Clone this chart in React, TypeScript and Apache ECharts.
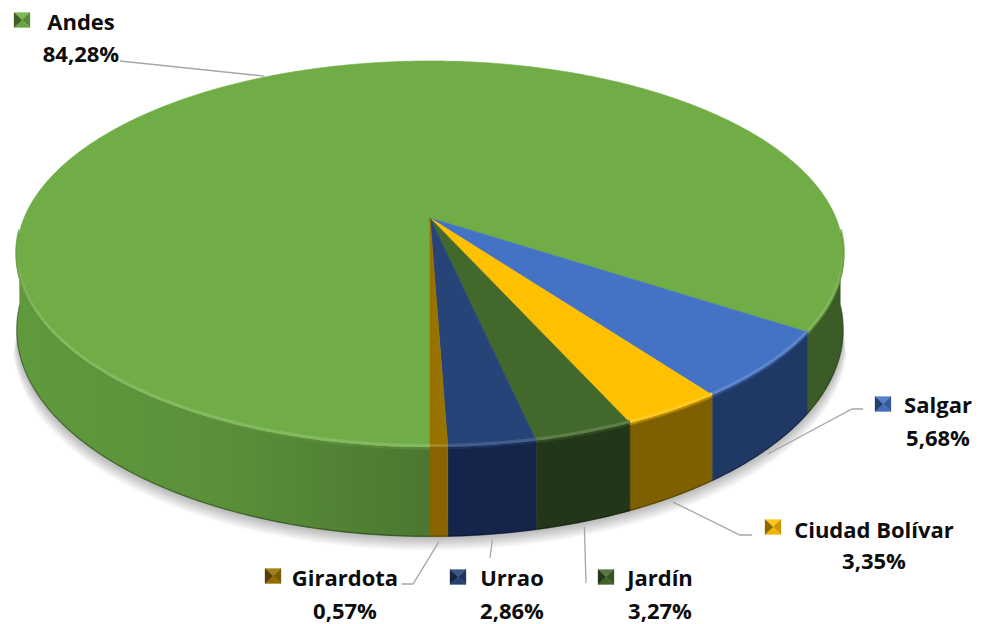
import React, { useEffect, useRef } from "react";
import * as echarts from "echarts";

// ---- data ----
const CATEGORIES = ["Andes", "Salgar", "Ciudad Bolívar", "Jardín", "Urrao", "Girardota"];
const VALUES = [84.28, 5.68, 3.35, 3.27, 2.86, 0.57];

// ---- styles ----
const TOP_COLORS = ["#70AD47", "#4472C4", "#FFC000", "#43682B", "#264478", "#997300"];
const SIDE_COLORS = ["", "#1F3864", "#7F6000", "#22361A", "#14244A", "#8A6400"];

// ---- layout (label boxes and leader elbows) ----
const LABEL_LAYOUT = [
  { tx: 81, ny: 21, py: 53, mx: 22, my: 20, line: [[120, 61]] },
  { tx: 938, ny: 404, py: 437, mx: 883, my: 404, line: [[852, 409], [863, 409]] },
  { tx: 874, ny: 529, py: 560, mx: 773, my: 527, line: [[740, 535], [752, 535]] },
  { tx: 660, ny: 577, py: 610, mx: 606, my: 577, line: [[586, 583]] },
  { tx: 512, ny: 577, py: 610, mx: 458, my: 577, line: [[490, 558]] },
  { tx: 345, ny: 577, py: 610, mx: 273, my: 576, line: [[413, 584], [402, 584]] },
];

// ---- pie geometry ----
const CX = 430;
const CY_E = 254;
const RA = 406;
const RB = 193;
const CC = -36;
const PERSP = 0.1865;
const DEPTH = 73;
const START_ANGLE = 90;
const FONT = "'Open Sans', 'Noto Sans', sans-serif";

function proj(deg: number, bottom = false): number[] {
  const t = (deg * Math.PI) / 180;
  const s = Math.sin(t);
  const c = Math.cos(t);
  const w = 1 - PERSP * s;
  const x = CX + (RA * c) / w;
  let y = CY_E + (RB * s + CC) / w;
  if (bottom) y += DEPTH / w;
  return [x, y];
}

function arc(a0: number, a1: number, bottom = false): number[][] {
  const pts: number[][] = [];
  const n = Math.max(2, Math.ceil((a1 - a0) / 0.75));
  for (let k = 0; k <= n; k++) pts.push(proj(a0 + ((a1 - a0) * k) / n, bottom));
  return pts;
}

function hexToRgb(h: string) {
  const v = parseInt(h.slice(1), 16);
  return [(v >> 16) & 255, (v >> 8) & 255, v & 255];
}
function shade(h: string, f: number) {
  const [r, g, b] = hexToRgb(h);
  const cl = (x: number) => Math.max(0, Math.min(255, Math.round(x)));
  return `rgb(${cl(r * f)},${cl(g * f)},${cl(b * f)})`;
}
function lighten(h: string, f: number) {
  const [r, g, b] = hexToRgb(h);
  const m = (x: number) => Math.round(x + (255 - x) * f);
  return `rgb(${m(r)},${m(g)},${m(b)})`;
}

export default function App() {
  const ref = useRef<HTMLDivElement>(null);

  useEffect(() => {
    document.body.style.margin = "0";
    if (!ref.current) return;
    const chart = echarts.init(ref.current, undefined, { renderer: "svg" });
    const total = VALUES.reduce((a, b) => a + b, 0);

    const renderItem = (params: any, api: any) => {
      const i = params.dataIndex;
      const v = api.value(0);
      let cum = 0;
      for (let k = 0; k < i; k++) cum += VALUES[k];
      const a0 = START_ANGLE + (cum / total) * 360;
      const a1 = a0 + (v / total) * 360;
      const top = TOP_COLORS[i];
      const children: any[] = [];

      // soft drop shadow under the front of the pie (drawn once)
      if (i === 0) {
        const base = arc(14, 166, true);
        for (let k = 14; k >= 1; k -= 1) {
          const down = base.map((p) => [p[0] + (p[0] - CX) * 0.0007 * k, p[1] + k]);
          const up = base.map((p) => [p[0], p[1] - 20]).reverse();
          children.push({
            type: "polygon",
            shape: { points: down.concat(up) },
            style: { fill: "rgba(0,0,0,0.02)" },
            z2: 0,
          });
        }
      }

      // side walls (visible front part)
      const sideFill =
        i === 0
          ? new echarts.graphic.LinearGradient(
              16, 0, 843, 0,
              [
                { offset: 0, color: "#5F9A3C" },
                { offset: 0.25, color: "#5A903A" },
                { offset: 0.5, color: "#4B7731" },
                { offset: 1, color: "#3A5A26" },
              ],
              true
            )
          : SIDE_COLORS[i];
      for (let k = -1; k <= 1; k++) {
        const lo = Math.max(a0, 4 + 360 * k);
        const hi = Math.min(a1, 176 + 360 * k);
        if (lo < hi) {
          const t = arc(lo, hi);
          const b = arc(lo, hi, true);
          children.push({
            type: "polygon",
            shape: { points: t.concat(b.slice().reverse()) },
            style: {
              fill: sideFill,
              stroke: i === 0 ? "#4B7731" : SIDE_COLORS[i],
              lineWidth: 0.4,
            },
            z2: 1,
          });
          // dark bottom edge
          children.push({
            type: "polyline",
            shape: { points: b.map((p) => [p[0], p[1] - 0.5]) },
            style: { stroke: "rgba(0,0,0,0.3)", lineWidth: 1.2, fill: "none" },
            z2: 1.5,
          });
          // bevel highlight on the top rim
          children.push({
            type: "polyline",
            shape: { points: t.map((p) => [p[0], p[1] - 1.5]) },
            style: { stroke: lighten(top, 0.14), lineWidth: 3, fill: "none" },
            z2: 3,
          });
          children.push({
            type: "polyline",
            shape: { points: t.map((p) => [p[0], p[1] + 1.5]) },
            style: { stroke: shade(top, 0.85), lineWidth: 2, fill: "none", opacity: 0.6 },
            z2: 3,
          });
        }
      }

      // top face
      children.push({
        type: "polygon",
        shape: { points: [[CX, CY_E + CC]].concat(arc(a0, a1)) },
        style: { fill: top, stroke: top, lineWidth: 0.6 },
        z2: 2,
      });

      // leader line
      const mid = (a0 + a1) / 2;
      const front = Math.sin((mid * Math.PI) / 180) > 0;
      const anc = proj(mid, front);
      const anchor = front ? [anc[0], anc[1] + 5] : [anc[0], anc[1] - 1];
      const L = LABEL_LAYOUT[i];
      children.push({
        type: "polyline",
        shape: { points: [anchor].concat(L.line) },
        style: { stroke: "#A6A6A6", lineWidth: 1.3, fill: "none" },
        z2: 4,
      });

      // legend key marker (bevelled square)
      const hw = 8;
      const hh = 7.5;
      const c = [L.mx, L.my];
      const tl = [L.mx - hw, L.my - hh];
      const tr = [L.mx + hw, L.my - hh];
      const bl = [L.mx - hw, L.my + hh];
      const br = [L.mx + hw, L.my + hh];
      const tris = [
        { pts: [tl, tr, c], col: lighten(top, 0.1) },
        { pts: [tr, br, c], col: shade(top, 0.8) },
        { pts: [br, bl, c], col: shade(top, 0.95) },
        { pts: [bl, tl, c], col: shade(top, 0.55) },
      ];
      tris.forEach((t) =>
        children.push({
          type: "polygon",
          shape: { points: t.pts },
          style: { fill: t.col, stroke: t.col, lineWidth: 0.3 },
          z2: 5,
        })
      );

      // texts
      children.push({
        type: "text",
        style: {
          x: L.tx,
          y: L.ny,
          text: CATEGORIES[i],
          fill: "#0D0D0D",
          font: `bold 22px ${FONT}`,
          align: "center",
          verticalAlign: "middle",
        },
        z2: 5,
      });
      children.push({
        type: "text",
        style: {
          x: L.tx,
          y: L.py,
          text: v.toFixed(2).replace(".", ",") + "%",
          fill: "#0D0D0D",
          font: `bold 22px ${FONT}`,
          align: "center",
          verticalAlign: "middle",
        },
        z2: 5,
      });

      return { type: "group", children };
    };

    chart.setOption({
      animation: false,
      backgroundColor: "#FFFFFF",
      series: [
        {
          type: "custom",
          coordinateSystem: "none",
          silent: true,
          renderItem,
          data: VALUES.map((v, i) => ({ name: CATEGORIES[i], value: [v] })),
        },
      ],
    });

    return () => chart.dispose();
  }, []);

  return <div ref={ref} style={{ width: 981, height: 624 }} />;
}
